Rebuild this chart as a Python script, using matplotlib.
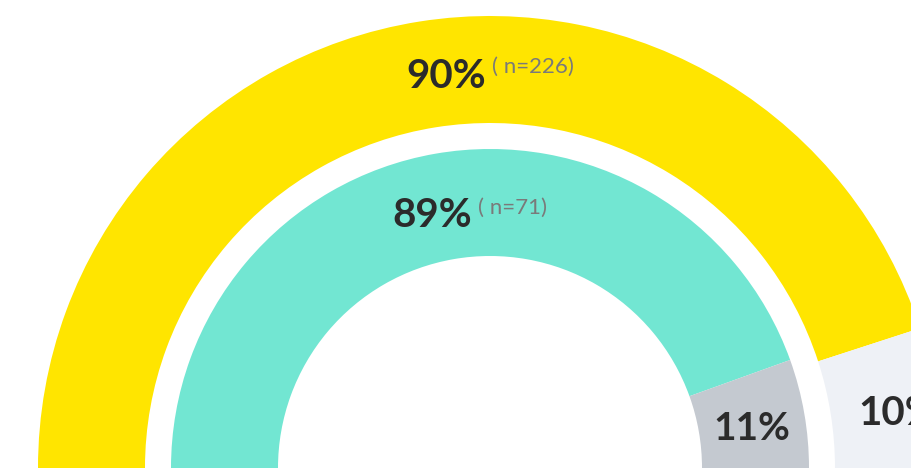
import matplotlib
matplotlib.use('Agg')
import matplotlib.pyplot as plt

# ring data
outer_labels = ['Yes', 'No']
outer_values = [90, 10]
outer_n = 226
inner_labels = ['Yes', 'No']
inner_values = [89, 11]
inner_n = 71

outer_colors = ['#FFE500', '#EEF1F6']
inner_colors = ['#72E6D2', '#C4C9D0']

plt.rcParams['font.family'] = ['Lato', 'DejaVu Sans']

fig = plt.figure(figsize=(9.12, 4.68), dpi=100)
ax = fig.add_axes([0, 0, 1, 1])

# start angles chosen so the small slice is centred on the right
ax.pie(outer_values, colors=outer_colors, radius=452, startangle=outer_values[1] / 100 * 180,
       counterclock=True, wedgeprops=dict(width=107, linewidth=0))
ax.pie(inner_values, colors=inner_colors, radius=319, startangle=inner_values[1] / 100 * 180,
       counterclock=True, wedgeprops=dict(width=107, linewidth=0))

ax.set_xlim(-490, 422)
ax.set_ylim(0, 468)
ax.set_aspect('equal')
ax.axis('off')

dark = '#2B2B2B'
grey = '#7A7A7A'

ax.text(-4, 380, f'{outer_values[0]}%', ha='right', va='baseline', fontsize=29, fontweight='bold', color=dark)
ax.text(2, 395, f'( n={outer_n})', ha='left', va='baseline', fontsize=16, color=grey)
ax.text(-18, 241, f'{inner_values[0]}%', ha='right', va='baseline', fontsize=29, fontweight='bold', color=dark)
ax.text(-12, 254, f'( n={inner_n})', ha='left', va='baseline', fontsize=16, color=grey)
ax.text(752 - 490, 28, f'{inner_values[1]}%', ha='center', va='baseline', fontsize=28, fontweight='bold', color=dark)
ax.text(858 - 490, 43, f'{outer_values[1]}%', ha='left', va='baseline', fontsize=29, fontweight='bold', color=dark)

fig.savefig('out.png', dpi=100)
